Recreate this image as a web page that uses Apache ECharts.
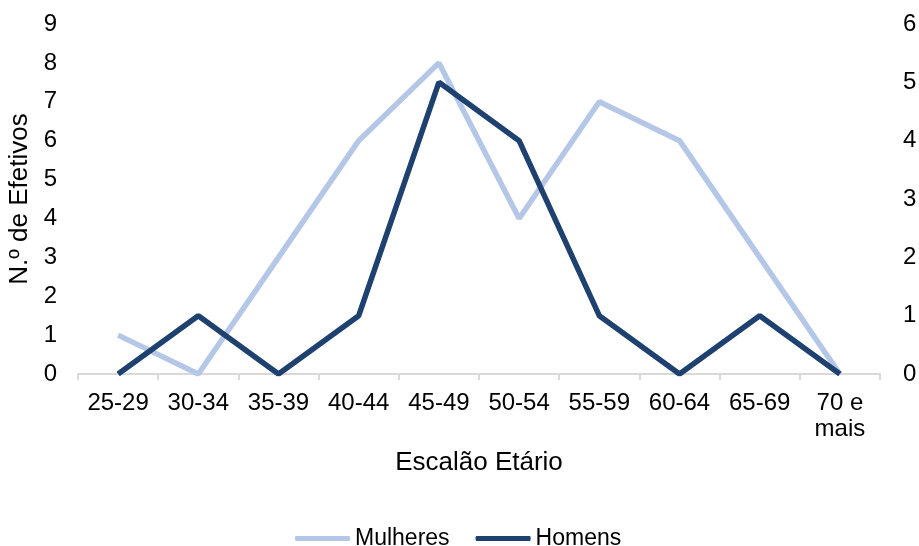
<!DOCTYPE html>
<html><head><meta charset="utf-8">
<script src="https://cdn.jsdelivr.net/npm/echarts@6/dist/echarts.min.js"></script>
<style>html,body{margin:0;padding:0;background:#fff}#c{width:919px;height:546px}</style>
</head><body><div id="c"></div>
<script>
const categories = ['25-29','30-34','35-39','40-44','45-49','50-54','55-59','60-64','65-69','70 e\nmais'];
const mulheres = [1,0,3,6,8,4,7,6,3,0];
const homens = [0,1,0,1,5,4,1,0,1,0];
const leftTicks = {min:0,max:9,interval:1};
const rightTicks = {min:0,max:6,interval:1};

const font = 'Liberation Sans, Arial, sans-serif';
const chart = echarts.init(document.getElementById('c'));
chart.setOption({
  animation:false,
  textStyle:{fontFamily:font},
  grid:{left:78,right:39,top:24,bottom:172,outerBoundsMode:'none',containLabel:false},
  legend:{
    top:522, left:290,
    itemWidth:55, itemHeight:5, itemGap:26,
    textStyle:{fontSize:23,color:'#000',fontFamily:font,padding:[0,0,0,0]},
    data:[{name:'Mulheres',icon:'roundRect'},{name:'Homens',icon:'roundRect'}]
  },
  xAxis:{
    type:'category', data:categories, boundaryGap:true,
    name:'Escalão Etário', nameLocation:'middle', nameGap:76,
    nameTextStyle:{fontSize:26,color:'#000',fontFamily:font},
    axisLine:{lineStyle:{color:'#D9D9D9',width:2}},
    axisTick:{show:true,length:6,lineStyle:{color:'#D9D9D9',width:2}},
    axisLabel:{fontSize:24,color:'#000',margin:16,lineHeight:26,interval:0,fontFamily:font}
  },
  yAxis:[{
    type:'value', min:leftTicks.min, max:leftTicks.max, interval:leftTicks.interval,
    name:'N.º de Efetivos', nameLocation:'middle', nameGap:38,
    nameTextStyle:{fontSize:26,color:'#000',fontFamily:font},
    splitLine:{show:false}, axisLine:{show:false}, axisTick:{show:false},
    axisLabel:{fontSize:24,color:'#000',margin:21,fontFamily:font}
  },{
    type:'value', min:rightTicks.min, max:rightTicks.max, interval:rightTicks.interval,
    splitLine:{show:false}, axisLine:{show:false}, axisTick:{show:false},
    axisLabel:{fontSize:24,color:'#000',margin:23,fontFamily:font}
  }],
  series:[{
    name:'Mulheres', type:'line', data:mulheres, yAxisIndex:0,
    symbol:'none', lineStyle:{color:'#B4C7E7',width:5.5}, itemStyle:{color:'#B4C7E7'}
  },{
    name:'Homens', type:'line', data:homens, yAxisIndex:1,
    symbol:'none', lineStyle:{color:'#1F4170',width:5.5}, itemStyle:{color:'#1F4170'}
  }]
});
</script></body></html>
